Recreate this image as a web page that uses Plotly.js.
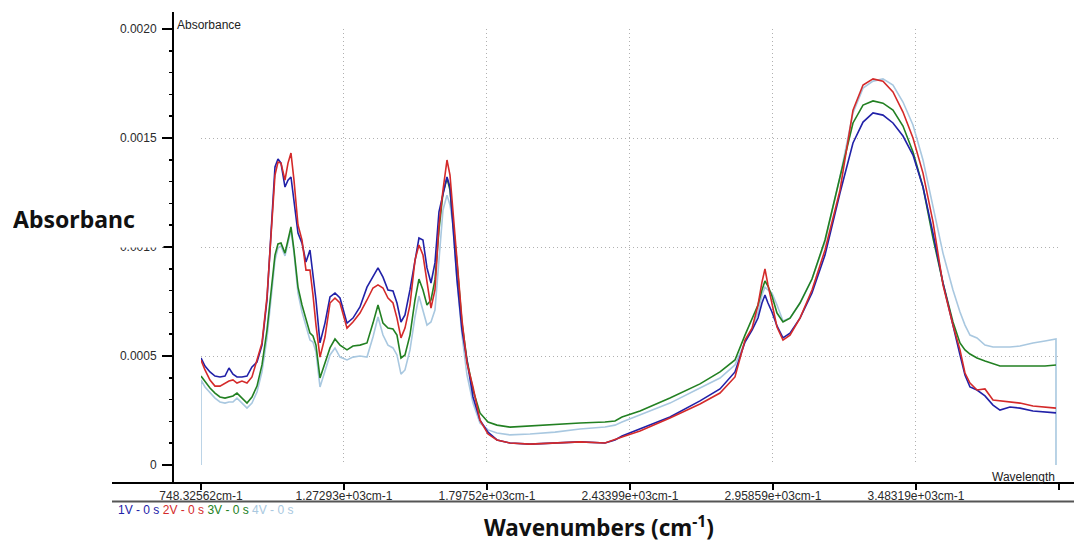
<!DOCTYPE html>
<html>
<head>
<meta charset="utf-8">
<script src="https://cdn.plot.ly/plotly-3.0.1.min.js"></script>
<style>html,body{margin:0;padding:0;background:#fff}#chart{width:1074px;height:542px}</style>
</head>
<body>
<div id="chart"></div>
<script>
// Wavenumber axis positions (cm-1, linear display scale of the instrument plot)
const wavenumbers = [
  748.3, 763.0, 781.3, 799.7, 818.0, 836.4, 851.0, 865.7, 880.4, 898.7,
  917.1, 935.4, 953.8, 972.1, 990.5, 1008.8, 1019.8, 1030.8, 1041.8, 1056.5,
  1067.5, 1078.5, 1089.5, 1104.2, 1118.9, 1133.5, 1148.2, 1159.2, 1170.2, 1184.9,
  1203.2, 1221.6, 1239.9, 1258.3, 1284.0, 1305.9, 1331.6, 1357.3, 1379.3, 1397.7,
  1416.0, 1434.3, 1452.7, 1467.3, 1482.0, 1496.7, 1515.0, 1533.4, 1548.0, 1562.7,
  1577.4, 1592.1, 1606.7, 1621.4, 1636.1, 1650.8, 1661.8, 1672.8, 1687.5, 1705.8,
  1724.1, 1746.2, 1771.8, 1801.2, 1834.2, 1881.9, 1955.3, 2047.0, 2138.7, 2230.4,
  2267.1, 2292.8, 2358.8, 2468.8, 2578.9, 2652.3, 2707.3, 2744.0, 2770.0, 2791.7,
  2806.3, 2817.3, 2828.3, 2843.0, 2861.4, 2883.4, 2909.1, 2945.8, 2989.8, 3037.5,
  3092.5, 3140.2, 3177.0, 3213.7, 3250.2, 3286.9, 3323.6, 3360.3, 3397.0, 3433.7,
  3470.3, 3507.0, 3532.7, 3551.0, 3569.4, 3595.1, 3624.4, 3653.8, 3679.4, 3716.1,
  3752.8, 3800.5, 3844.6, 3884.9
];

const abs1V = [
  0.000491, 0.000454, 0.000427, 0.000408, 0.000404, 0.000408, 0.000445, 0.000417, 0.000404, 0.000404,
  0.000408, 0.000450, 0.000472, 0.000550, 0.000757, 0.001156, 0.001367, 0.001404, 0.001385, 0.001275,
  0.001307, 0.001321, 0.001216, 0.001064, 0.001018, 0.000931, 0.000986, 0.000881, 0.000757, 0.000560,
  0.000651, 0.000771, 0.000789, 0.000766, 0.000651, 0.000674, 0.000725, 0.000816, 0.000862, 0.000904,
  0.000862, 0.000803, 0.000798, 0.000743, 0.000656, 0.000688, 0.000803, 0.000931, 0.001041, 0.001032,
  0.000904, 0.000835, 0.000927, 0.001161, 0.001248, 0.001321, 0.001275, 0.001078, 0.000849, 0.000619,
  0.000482, 0.000312, 0.000206, 0.000151, 0.000115, 0.000101, 0.000096, 0.000101, 0.000106, 0.000101,
  0.000115, 0.000133, 0.000165, 0.000220, 0.000294, 0.000349, 0.000427, 0.000564, 0.000619, 0.000674,
  0.000743, 0.000780, 0.000743, 0.000702, 0.000638, 0.000583, 0.000605, 0.000674, 0.000789, 0.000963,
  0.001248, 0.001477, 0.001573, 0.001615, 0.001605, 0.001569, 0.001509, 0.001422, 0.001275, 0.001064,
  0.000835, 0.000633, 0.000505, 0.000413, 0.000358, 0.000344, 0.000317, 0.000275, 0.000252, 0.000266,
  0.000261, 0.000248, 0.000243, 0.000239
];

const abs2V = [
  0.000482, 0.000436, 0.000390, 0.000362, 0.000362, 0.000376, 0.000385, 0.000390, 0.000376, 0.000385,
  0.000376, 0.000404, 0.000482, 0.000560, 0.000771, 0.001156, 0.001330, 0.001390, 0.001385, 0.001307,
  0.001385, 0.001431, 0.001307, 0.001101, 0.001032, 0.000894, 0.000894, 0.000780, 0.000642, 0.000495,
  0.000587, 0.000743, 0.000766, 0.000743, 0.000628, 0.000656, 0.000697, 0.000757, 0.000812, 0.000826,
  0.000812, 0.000766, 0.000743, 0.000674, 0.000583, 0.000628, 0.000734, 0.000940, 0.001009, 0.000963,
  0.000835, 0.000720, 0.000803, 0.001101, 0.001261, 0.001399, 0.001330, 0.001170, 0.000917, 0.000665,
  0.000468, 0.000358, 0.000206, 0.000142, 0.000115, 0.000101, 0.000096, 0.000101, 0.000106, 0.000101,
  0.000115, 0.000128, 0.000156, 0.000216, 0.000280, 0.000330, 0.000404, 0.000573, 0.000628, 0.000734,
  0.000839, 0.000899, 0.000826, 0.000734, 0.000633, 0.000573, 0.000596, 0.000674, 0.000803, 0.000986,
  0.001261, 0.001628, 0.001743, 0.001771, 0.001761, 0.001711, 0.001619, 0.001500, 0.001339, 0.001115,
  0.000826, 0.000642, 0.000528, 0.000422, 0.000376, 0.000344, 0.000349, 0.000298, 0.000294, 0.000289,
  0.000284, 0.000271, 0.000266, 0.000261
];

const abs3V = [
  0.000408, 0.000385, 0.000353, 0.000330, 0.000312, 0.000307, 0.000312, 0.000317, 0.000330, 0.000307,
  0.000284, 0.000312, 0.000362, 0.000459, 0.000619, 0.000835, 0.000963, 0.001014, 0.001018, 0.000972,
  0.001032, 0.001092, 0.000986, 0.000816, 0.000734, 0.000665, 0.000605, 0.000592, 0.000550, 0.000399,
  0.000468, 0.000537, 0.000578, 0.000550, 0.000528, 0.000546, 0.000550, 0.000560, 0.000651, 0.000734,
  0.000651, 0.000628, 0.000624, 0.000596, 0.000491, 0.000505, 0.000596, 0.000757, 0.000853, 0.000803,
  0.000734, 0.000757, 0.000849, 0.001078, 0.001248, 0.001316, 0.001261, 0.001124, 0.000927, 0.000651,
  0.000482, 0.000344, 0.000239, 0.000197, 0.000183, 0.000174, 0.000179, 0.000188, 0.000193, 0.000197,
  0.000202, 0.000220, 0.000248, 0.000307, 0.000372, 0.000427, 0.000482, 0.000596, 0.000674, 0.000734,
  0.000803, 0.000844, 0.000821, 0.000775, 0.000697, 0.000656, 0.000674, 0.000743, 0.000853, 0.001032,
  0.001321, 0.001569, 0.001651, 0.001670, 0.001660, 0.001628, 0.001555, 0.001436, 0.001275, 0.001041,
  0.000835, 0.000656, 0.000560, 0.000528, 0.000509, 0.000491, 0.000477, 0.000463, 0.000454, 0.000454,
  0.000454, 0.000454, 0.000454, 0.000459
];

const abs4V = [
  0.000390, 0.000358, 0.000330, 0.000307, 0.000289, 0.000284, 0.000289, 0.000289, 0.000307, 0.000284,
  0.000261, 0.000284, 0.000335, 0.000427, 0.000583, 0.000803, 0.000940, 0.000995, 0.001005, 0.000959,
  0.001018, 0.001078, 0.000972, 0.000789, 0.000702, 0.000633, 0.000573, 0.000564, 0.000518, 0.000358,
  0.000436, 0.000505, 0.000537, 0.000495, 0.000482, 0.000495, 0.000500, 0.000495, 0.000587, 0.000679,
  0.000596, 0.000550, 0.000537, 0.000505, 0.000417, 0.000436, 0.000528, 0.000679, 0.000775, 0.000711,
  0.000642, 0.000656, 0.000711, 0.000940, 0.001170, 0.001238, 0.001193, 0.001101, 0.000849, 0.000596,
  0.000413, 0.000284, 0.000193, 0.000161, 0.000147, 0.000138, 0.000142, 0.000151, 0.000165, 0.000174,
  0.000183, 0.000197, 0.000229, 0.000284, 0.000353, 0.000399, 0.000459, 0.000564, 0.000628, 0.000702,
  0.000780, 0.000816, 0.000803, 0.000789, 0.000734, 0.000661, 0.000674, 0.000743, 0.000853, 0.001023,
  0.001321, 0.001615, 0.001729, 0.001761, 0.001771, 0.001743, 0.001665, 0.001560, 0.001399, 0.001193,
  0.000972, 0.000803, 0.000702, 0.000642, 0.000596, 0.000583, 0.000550, 0.000541, 0.000541, 0.000541,
  0.000546, 0.000560, 0.000569, 0.000578
];
// the 4V trace drops to zero absorbance at both ends of the recorded range
const abs4VEndValue = 0;

const seriesNames = ['1V - 0 s', '2V - 0 s', '3V - 0 s', '4V - 0 s'];
const seriesColors = ['#2121a8', '#d42a2a', '#228022', '#a9c8e0'];

const xTickValues = [748.33, 1272.93, 1797.52, 2322.12, 2846.72, 3371.32, 3895.92];
const xTickLabels = ['748.32562cm-1', '1.27293e+03cm-1', '1.79752e+03cm-1', '2.43399e+03cm-1',
                     '2.95859e+03cm-1', '3.48319e+03cm-1', ' '];
const yTickValues = [0, 0.0005, 0.0010, 0.0015, 0.0020];
const yTickLabels = ['0', '0.0005', '0.0010', '0.0015', '0.0020'];

const n = wavenumbers.length;
const x4 = [wavenumbers[0]].concat(wavenumbers, [wavenumbers[n - 1]]);
const y4 = [abs4VEndValue].concat(abs4V, [abs4VEndValue]);

const lineW = 1.6;
const traces = [
  {x: x4, y: y4, name: seriesNames[3], type: 'scatter', mode: 'lines', line: {color: seriesColors[3], width: lineW}},
  {x: wavenumbers, y: abs3V, name: seriesNames[2], type: 'scatter', mode: 'lines', line: {color: seriesColors[2], width: lineW}},
  {x: wavenumbers, y: abs1V, name: seriesNames[0], type: 'scatter', mode: 'lines', line: {color: seriesColors[0], width: lineW}},
  {x: wavenumbers, y: abs2V, name: seriesNames[1], type: 'scatter', mode: 'lines', line: {color: seriesColors[1], width: lineW}}
];

const tickFont = {family: 'Liberation Sans, Arial, sans-serif', size: 12, color: '#2a2a2a'};
const gridStyle = {showgrid: true, gridcolor: '#b0b0b0', gridwidth: 1, griddash: '1px,3px', zeroline: false};

const legendText = seriesNames.map((s, i) => '<span style="color:' + seriesColors[i] + '">' + s + '</span>').join(' ');

const layout = {
  width: 1074, height: 542,
  margin: {l: 112, r: 0, t: 12, b: 59},
  paper_bgcolor: '#fff', plot_bgcolor: '#fff',
  showlegend: false,
  xaxis: Object.assign({
    domain: [0.0925, 0.9844], range: [xTickValues[0], xTickValues[xTickValues.length - 1]],
    anchor: 'free', position: 0,
    tickmode: 'array', tickvals: xTickValues, ticktext: xTickLabels,
    ticks: 'outside', ticklen: 6, tickwidth: 1.5, tickcolor: '#000', ticklabelstandoff: -4,
    showline: false, tickfont: tickFont, fixedrange: true
  }, gridStyle),
  yaxis: Object.assign({
    domain: [0.0382, 0.9639], range: [0, 0.002],
    anchor: 'free', position: 0.0634, side: 'left',
    tickmode: 'array', tickvals: yTickValues, ticktext: yTickLabels,
    ticks: 'outside', ticklen: 11, tickwidth: 1.5, tickcolor: '#000', ticklabelstandoff: 3,
    minor: {dtick: 0.0001, tick0: 0, ticks: 'outside', ticklen: 4, tickwidth: 1.5, tickcolor: '#000', showgrid: false},
    showline: false, tickfont: tickFont, fixedrange: true
  }, gridStyle),
  shapes: [
    {type: 'line', xref: 'paper', yref: 'paper', x0: 0.0634, x1: 0.0634, y0: 0, y1: 1, line: {color: '#000', width: 2}},
    {type: 'line', xref: 'paper', yref: 'paper', x0: 0, x1: 1, y0: 0, y1: 0, line: {color: '#000', width: 2}},
    {type: 'line', xref: 'paper', yref: 'paper', x0: 0, x1: 1, y0: -0.0393, y1: -0.0393, line: {color: '#555', width: 2}}
  ],
  annotations: [
    {text: 'Absorbance', xref: 'paper', yref: 'paper', x: 0.0655, y: 0.9724, xanchor: 'left', yanchor: 'middle',
     showarrow: false, bgcolor: '#fff', borderpad: 1, font: {family: 'Liberation Sans, Arial, sans-serif', size: 12, color: '#222'}},
    {text: 'Wavelength', xref: 'paper', yref: 'paper', x: 0.9823, y: 0.0127, xanchor: 'right', yanchor: 'middle',
     showarrow: false, font: {family: 'Liberation Sans, Arial, sans-serif', size: 12, color: '#222'}},
    {text: 'Absorbanc', xref: 'paper', yref: 'paper', x: -0.1143, y: 0.5605, xanchor: 'left', yanchor: 'middle',
     width: 140, height: 36, borderpad: 10, align: 'left', valign: 'middle', bgcolor: '#fff',
     showarrow: false, font: {family: 'Noto Sans, sans-serif', size: 23, weight: 'bold', color: '#111'}},
    {text: 'Wavenumbers (cm<sup>-1</sup>)', xref: 'paper', yref: 'paper', x: 0.5062, y: -0.0915, xanchor: 'center', yanchor: 'middle',
     showarrow: false, font: {family: 'Noto Sans, sans-serif', size: 22.5, weight: 'bold', color: '#111'}},
    {text: legendText, xref: 'paper', yref: 'paper', x: 0.0042, y: -0.0563, xanchor: 'left', yanchor: 'middle',
     showarrow: false, font: {family: 'Liberation Sans, Arial, sans-serif', size: 12}}
  ]
};

Plotly.newPlot('chart', traces, layout, {staticPlot: true, displayModeBar: false});
</script>
</body>
</html>
